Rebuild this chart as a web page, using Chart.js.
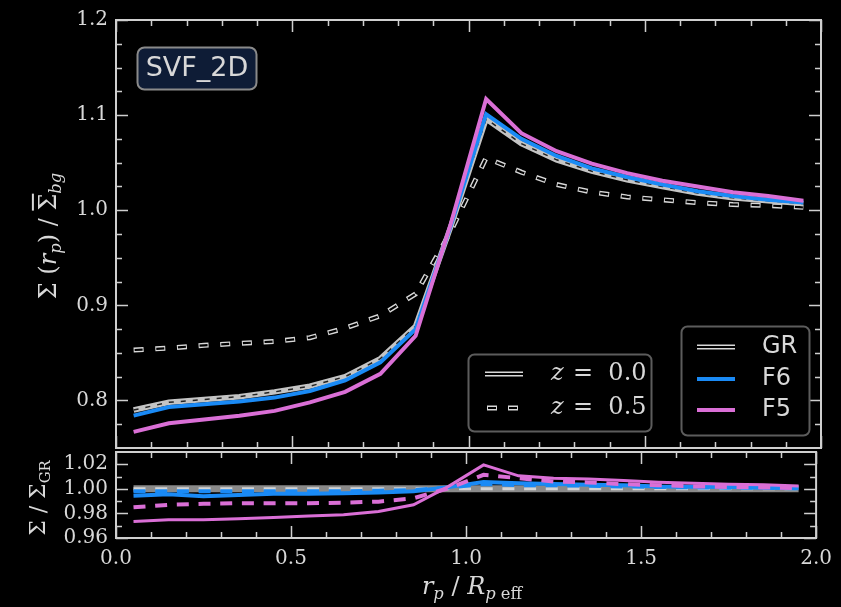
<!DOCTYPE html>
<html>
<head>
<meta charset="utf-8">
<script src="https://cdn.jsdelivr.net/npm/chart.js@4.4.1/dist/chart.umd.min.js"></script>
<style>
  body { margin: 0; background: #000; }
  #wrap { position: relative; width: 841px; height: 607px; background: #000; overflow: hidden; }
  canvas { position: absolute; left: 0; top: 0; }
  .lbl { position: absolute; color: #d8d8d8; font-family: 'DejaVu Serif', serif; white-space: nowrap; transform: translate(-50%, -50%); line-height: 1; }
  .rot { transform: translate(-50%, -50%) rotate(-90deg); }
  .lbl sub { font-size: 68%; vertical-align: -0.3em; }
</style>
</head>
<body>
<div id="wrap">
  <canvas id="profileChart" width="841" height="607"></canvas>
  <canvas id="ratioChart" width="841" height="607"></canvas>
  <div class="lbl rot" style="left:50px; top:236px; font-size:24px;">Σ (<i>r<sub>p</sub></i>) / <span style="text-decoration:overline">Σ</span><sub><i>bg</i></sub></div>
  <div class="lbl rot" style="left:40px; top:498px; font-size:22px;">Σ / Σ<sub>GR</sub></div>
  <div class="lbl" style="left:472px; top:588px; font-size:24px;"><i>r<sub>p</sub></i> / <i>R</i><sub><i>p</i> eff</sub></div>
</div>
<script>
// bin centres, r_p / R_p,eff
const radius = [0.05, 0.15, 0.25, 0.35, 0.45, 0.55, 0.65, 0.75, 0.85, 0.95,
                1.05, 1.15, 1.25, 1.35, 1.45, 1.55, 1.65, 1.75, 1.85, 1.95];

// top panel: density profiles
const grZ0  = [0.790, 0.798, 0.801, 0.804, 0.809, 0.815, 0.825, 0.844, 0.878, 0.983,
               1.096, 1.070, 1.053, 1.041, 1.032, 1.025, 1.018, 1.013, 1.010, 1.007];
const grZ05 = [0.853, 0.855, 0.858, 0.860, 0.862, 0.866, 0.876, 0.889, 0.912, 0.978,
               1.055, 1.040, 1.027, 1.019, 1.014, 1.011, 1.008, 1.006, 1.005, 1.003];
const f6Z0  = [0.784, 0.793, 0.796, 0.799, 0.803, 0.810, 0.821, 0.840, 0.875, 0.984,
               1.101, 1.075, 1.057, 1.044, 1.035, 1.027, 1.020, 1.015, 1.011, 1.008];
const f5Z0  = [0.767, 0.776, 0.780, 0.784, 0.789, 0.798, 0.809, 0.828, 0.868, 0.986,
               1.117, 1.081, 1.062, 1.049, 1.039, 1.031, 1.025, 1.019, 1.015, 1.010];

// bottom panel: ratio to GR
const ratioGR    = [1.000, 1.000, 1.000, 1.000, 1.000, 1.000, 1.000, 1.000, 1.000, 1.000,
                    1.000, 1.000, 1.000, 1.000, 1.000, 1.000, 1.000, 1.000, 1.000, 1.000];
const ratioF6Z0  = [0.9943, 0.9957, 0.9940, 0.9950, 0.9960, 0.9960, 0.9965, 0.9970, 0.9980, 1.0014,
                    1.0055, 1.0045, 1.0040, 1.0033, 1.0030, 1.0020, 1.0018, 1.0015, 1.0010, 1.0005];
const ratioF6Z05 = [0.9980, 0.9980, 0.9980, 0.9980, 0.9980, 0.9980, 0.9980, 0.9985, 0.9990, 1.0010,
                    1.0040, 1.0030, 1.0030, 1.0025, 1.0020, 1.0015, 1.0012, 1.0010, 1.0008, 1.0005];
const ratioF5Z0  = [0.9734, 0.9748, 0.9748, 0.9756, 0.9767, 0.9780, 0.9790, 0.9816, 0.9870, 1.0020,
                    1.0195, 1.0106, 1.0087, 1.0080, 1.0068, 1.0054, 1.0046, 1.0038, 1.0033, 1.0024];
const ratioF5Z05 = [0.9850, 0.9870, 0.9878, 0.9883, 0.9883, 0.9883, 0.9888, 0.9896, 0.9924, 1.0005,
                    1.0114, 1.0087, 1.0060, 1.0052, 1.0038, 1.0030, 1.0020, 1.0015, 1.0012, 1.0005];

// axis ticks
const xMajorTicks = [0.0, 0.5, 1.0, 1.5, 2.0];
const xMinorTicks = [0.1, 0.2, 0.3, 0.4, 0.6, 0.7, 0.8, 0.9, 1.1, 1.2, 1.3, 1.4, 1.6, 1.7, 1.8, 1.9];
const topYMajor = [0.8, 0.9, 1.0, 1.1, 1.2];
const topYMinor = [0.775, 0.825, 0.85, 0.875, 0.925, 0.95, 0.975, 1.025, 1.05, 1.075, 1.125, 1.15, 1.175];
const ratioYMajor = [0.96, 0.98, 1.00, 1.02];
const ratioYMinor = [0.97, 0.99, 1.01];

const BLUE = '#1a8af5';
const ORCHID = '#da6fd6';
const LIGHT = '#d8d8d8';

function lineSet(values, color, width, order, dash, dashOffset) {
    return {
        data: radius.map((r, i) => ({ x: r, y: values[i] })),
        borderColor: color,
        borderWidth: width,
        borderDash: dash || [],
        borderDashOffset: dashOffset || 0,
        pointRadius: 0,
        tension: 0,
        fill: false,
        order: order
    };
}

// frame + inward ticks, matplotlib style
const frameTicks = {
    id: 'frameTicks',
    afterDatasetsDraw(chart, args, opts) {
        const ctx = chart.ctx, a = chart.chartArea;
        const x = chart.scales.x, y = chart.scales.y;
        ctx.save();
        ctx.strokeStyle = '#cfcfcf';
        ctx.lineWidth = 1.5;
        ctx.beginPath();
        const xt = (vals, len) => vals.forEach(v => {
            const px = Math.round(x.getPixelForValue(v)) + 0.5;
            ctx.moveTo(px, a.bottom); ctx.lineTo(px, a.bottom - len);
            ctx.moveTo(px, a.top); ctx.lineTo(px, a.top + len);
        });
        const yt = (vals, len) => vals.forEach(v => {
            const py = Math.round(y.getPixelForValue(v)) + 0.5;
            ctx.moveTo(a.left, py); ctx.lineTo(a.left + len, py);
            ctx.moveTo(a.right, py); ctx.lineTo(a.right - len, py);
        });
        xt(opts.xMajor, 12); xt(opts.xMinor, 6);
        yt(opts.yMajor, 12); yt(opts.yMinor, 6);
        ctx.stroke();
        ctx.lineWidth = 2;
        ctx.strokeRect(a.left, a.top, a.right - a.left, a.bottom - a.top);
        ctx.restore();
    }
};

function roundBox(ctx, x, y, w, h, r) {
    ctx.beginPath();
    ctx.moveTo(x + r, y);
    ctx.arcTo(x + w, y, x + w, y + h, r);
    ctx.arcTo(x + w, y + h, x, y + h, r);
    ctx.arcTo(x, y + h, x, y, r);
    ctx.arcTo(x, y, x + w, y, r);
    ctx.closePath();
}

function outlinedSample(ctx, x1, x2, y, dash) {
    ctx.beginPath(); ctx.moveTo(x1, y); ctx.lineTo(x2, y);
    ctx.setLineDash(dash); ctx.lineDashOffset = 0;
    ctx.strokeStyle = LIGHT; ctx.lineWidth = 5; ctx.stroke();
    ctx.setLineDash(dash.length ? [dash[0] - 2, dash[1] + 2] : []); ctx.lineDashOffset = -1;
    ctx.strokeStyle = '#000'; ctx.lineWidth = 2; ctx.stroke();
    ctx.setLineDash([]); ctx.lineDashOffset = 0;
}

// label box and the two legends of the top panel
const overlay = {
    id: 'overlay',
    afterDraw(chart) {
        const ctx = chart.ctx;
        ctx.save();
        // SVF_2D tag
        roundBox(ctx, 137.5, 47.5, 119, 42, 7);
        ctx.fillStyle = '#0e1c36'; ctx.fill();
        ctx.strokeStyle = '#8a8a8a'; ctx.lineWidth = 2; ctx.stroke();
        ctx.fillStyle = LIGHT;
        ctx.font = '27px "DejaVu Sans"';
        ctx.textAlign = 'center'; ctx.textBaseline = 'middle';
        ctx.fillText('SVF_2D', 197, 69);

        // redshift legend
        roundBox(ctx, 468.5, 354.5, 183, 77, 6);
        ctx.fillStyle = 'rgba(0,0,0,0.85)'; ctx.fill();
        ctx.strokeStyle = '#5c5c5c'; ctx.lineWidth = 2; ctx.stroke();
        outlinedSample(ctx, 485, 523, 374, []);
        outlinedSample(ctx, 487, 520, 408, [10, 11]);
        ctx.fillStyle = LIGHT; ctx.textAlign = 'left'; ctx.textBaseline = 'middle';
        [['0.0', 374], ['0.5', 408]].forEach(([z, yy]) => {
            ctx.font = 'italic 24px "DejaVu Serif"';
            ctx.fillText('z', 551, yy);
            ctx.font = '24px "DejaVu Serif"';
            ctx.fillText('=  ' + z, 573, yy);
        });

        // model legend
        roundBox(ctx, 681.5, 326.5, 128, 109, 6);
        ctx.fillStyle = 'rgba(0,0,0,0.85)'; ctx.fill();
        ctx.strokeStyle = '#5c5c5c'; ctx.lineWidth = 2; ctx.stroke();
        outlinedSample(ctx, 697, 735, 347, []);
        ctx.lineWidth = 4;
        ctx.strokeStyle = BLUE;
        ctx.beginPath(); ctx.moveTo(697, 379); ctx.lineTo(735, 379); ctx.stroke();
        ctx.strokeStyle = ORCHID;
        ctx.beginPath(); ctx.moveTo(697, 410); ctx.lineTo(735, 410); ctx.stroke();
        ctx.fillStyle = LIGHT;
        ctx.font = '24px "DejaVu Sans"';
        ctx.fillText('GR', 762, 347);
        ctx.fillText('F6', 762, 379);
        ctx.fillText('F5', 762, 410);
        ctx.restore();
    }
};

const tickFont = { family: 'DejaVu Serif', size: 20 };

// top panel
new Chart(document.getElementById('profileChart'), {
    type: 'line',
    data: {
        datasets: [
            lineSet(grZ05, LIGHT, 5, 10, [10, 11.7], 0),
            lineSet(grZ05, '#000', 2.2, 9, [8, 13.7], -1),
            lineSet(grZ0, '#c4c4c4', 5.5, 8),
            lineSet(grZ0, '#222', 1.5, 7, [5, 7]),
            lineSet(f6Z0, BLUE, 4, 6),
            lineSet(f5Z0, ORCHID, 4, 5)
        ]
    },
    options: {
        responsive: false,
        animation: false,
        devicePixelRatio: 1,
        layout: { padding: { left: 0, right: 20, top: 20, bottom: 159 } },
        scales: {
            x: {
                type: 'linear', min: 0, max: 2,
                grid: { display: false, drawTicks: false },
                border: { display: false },
                ticks: { display: false },
                afterFit: s => { s.height = 0; }
            },
            y: {
                min: 0.75, max: 1.2,
                grid: { display: false, drawTicks: false },
                border: { display: false },
                afterBuildTicks: s => { s.ticks = topYMajor.map(v => ({ value: v })); },
                ticks: { font: tickFont, color: LIGHT, padding: 8, callback: v => v.toFixed(1) },
                afterFit: s => { s.width = 116; }
            }
        },
        plugins: {
            legend: { display: false },
            tooltip: { enabled: false },
            frameTicks: { xMajor: xMajorTicks, xMinor: xMinorTicks, yMajor: topYMajor, yMinor: topYMinor }
        }
    },
    plugins: [frameTicks, overlay]
});

// bottom panel
new Chart(document.getElementById('ratioChart'), {
    type: 'line',
    data: {
        datasets: [
            lineSet(ratioGR, '#8a8a8a', 7, 10),
            lineSet(ratioGR, '#d4d4d4', 3, 9, [12, 9.7], 0),
            lineSet(ratioF6Z05, BLUE, 4, 8, [12, 9.7], 0),
            lineSet(ratioF6Z0, BLUE, 4, 7),
            lineSet(ratioF5Z05, ORCHID, 4, 6, [12, 9.7], 0),
            lineSet(ratioF5Z0, ORCHID, 3, 5)
        ]
    },
    options: {
        responsive: false,
        animation: false,
        devicePixelRatio: 1,
        layout: { padding: { left: 0, right: 20, top: 452, bottom: 0 } },
        scales: {
            x: {
                type: 'linear', min: 0, max: 2,
                grid: { display: false, drawTicks: false },
                border: { display: false },
                afterBuildTicks: s => { s.ticks = xMajorTicks.map(v => ({ value: v })); },
                ticks: { font: tickFont, color: LIGHT, padding: 9, maxRotation: 0, callback: v => v.toFixed(1) },
                afterFit: s => { s.height = 69; }
            },
            y: {
                min: 0.96, max: 1.03,
                grid: { display: false, drawTicks: false },
                border: { display: false },
                afterBuildTicks: s => { s.ticks = ratioYMajor.map(v => ({ value: v })); },
                ticks: { font: tickFont, color: LIGHT, padding: 8, callback: v => v.toFixed(2) },
                afterFit: s => { s.width = 116; }
            }
        },
        plugins: {
            legend: { display: false },
            tooltip: { enabled: false },
            frameTicks: { xMajor: xMajorTicks, xMinor: xMinorTicks, yMajor: ratioYMajor, yMinor: ratioYMinor }
        }
    },
    plugins: [frameTicks]
});
</script>
</body>
</html>
